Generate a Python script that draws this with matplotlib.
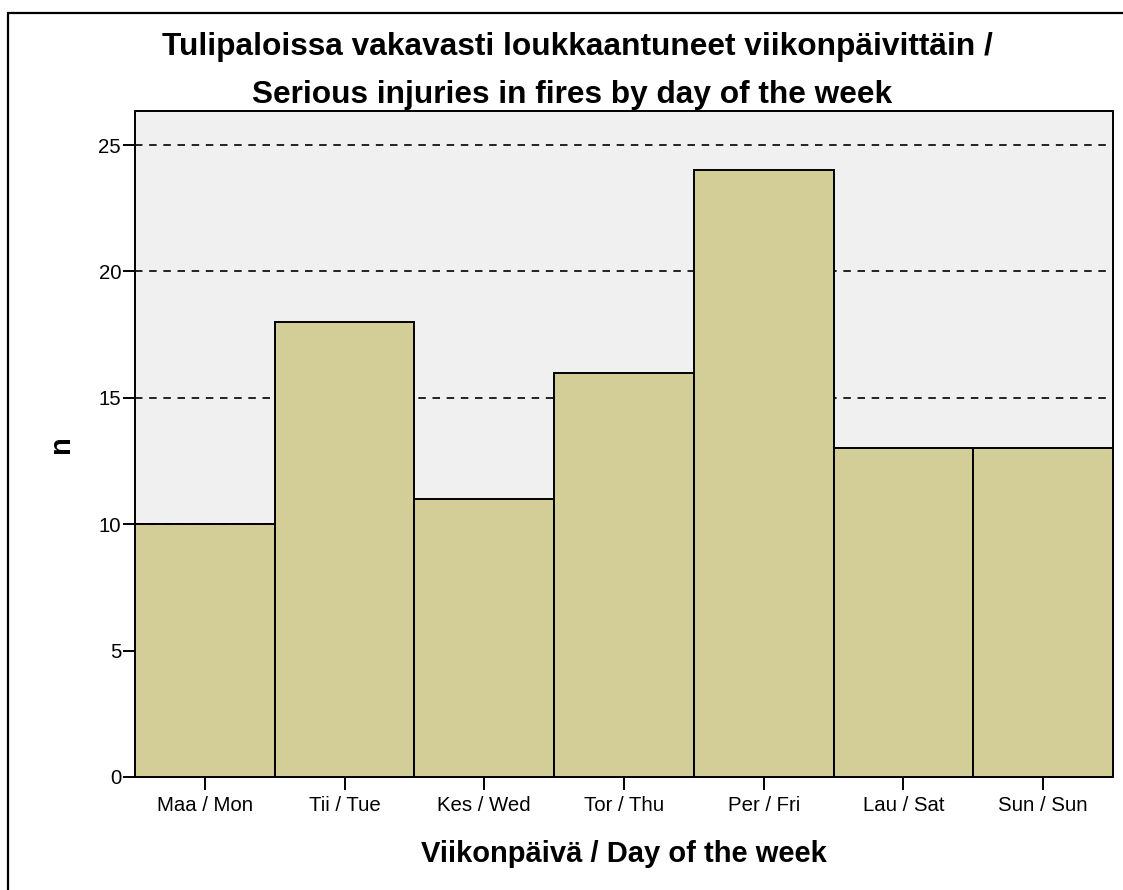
import matplotlib
matplotlib.use("Agg")
import matplotlib.pyplot as plt
from matplotlib.patches import Rectangle

days = ["Maa / Mon", "Tii / Tue", "Kes / Wed", "Tor / Thu", "Per / Fri", "Lau / Sat", "Sun / Sun"]
counts = [10, 18, 11, 16, 24, 13, 13]
yticks = [0, 5, 10, 15, 20, 25]

plt.rcParams['font.family'] = ['Liberation Sans', 'DejaVu Sans']

W, H = 1123, 890
fig = plt.figure(figsize=(W / 100, H / 100), dpi=100)
ax = fig.add_axes([135 / W, 1 - 777 / H, (1113 - 135) / W, (777 - 111) / H])
ax.set_facecolor('#F0F0F0')

x = list(range(len(days)))
ax.bar(x, counts, width=1.0, color='#D3CE97', edgecolor='black', linewidth=1.4, zorder=3)
ax.set_xlim(-0.5, len(days) - 0.5)
ax.set_ylim(0, 26.35)
ax.set_yticks(yticks)
ax.yaxis.grid(True, linestyle=(0, (4.5, 4)), color='black', linewidth=1.2, zorder=1)
ax.set_axisbelow(True)
ax.set_xticks(x)
ax.set_xticklabels(days, fontsize=14.7)
ax.tick_params(axis='y', labelsize=14.7, length=9, width=1.4, direction='out', pad=1)
ax.tick_params(axis='x', length=9, width=1.4, direction='out', pad=5)
for s in ax.spines.values():
    s.set_linewidth(1.4)

ax.set_xlabel("Viikonpäivä / Day of the week", fontsize=21, fontweight='bold', labelpad=18)
ax.set_ylabel("n", fontsize=21, fontweight='bold')
ax.yaxis.set_label_coords(-(135 - 75) / (1113 - 135), 0.5)

fig.text(577 / W, 1 - 47 / H, "Tulipaloissa vakavasti loukkaantuneet viikonpäivittäin /",
         ha='center', va='center', fontsize=22.8, fontweight='bold')
fig.text(572 / W, 1 - 95 / H, "Serious injuries in fires by day of the week",
         ha='center', va='center', fontsize=22.8, fontweight='bold')

fig.patches.append(Rectangle((8 / W, -0.1), 2, 1 - 13 / H + 0.1, transform=fig.transFigure,
                             fill=False, edgecolor='black', linewidth=1.6))

fig.savefig("out.png", dpi=100)
